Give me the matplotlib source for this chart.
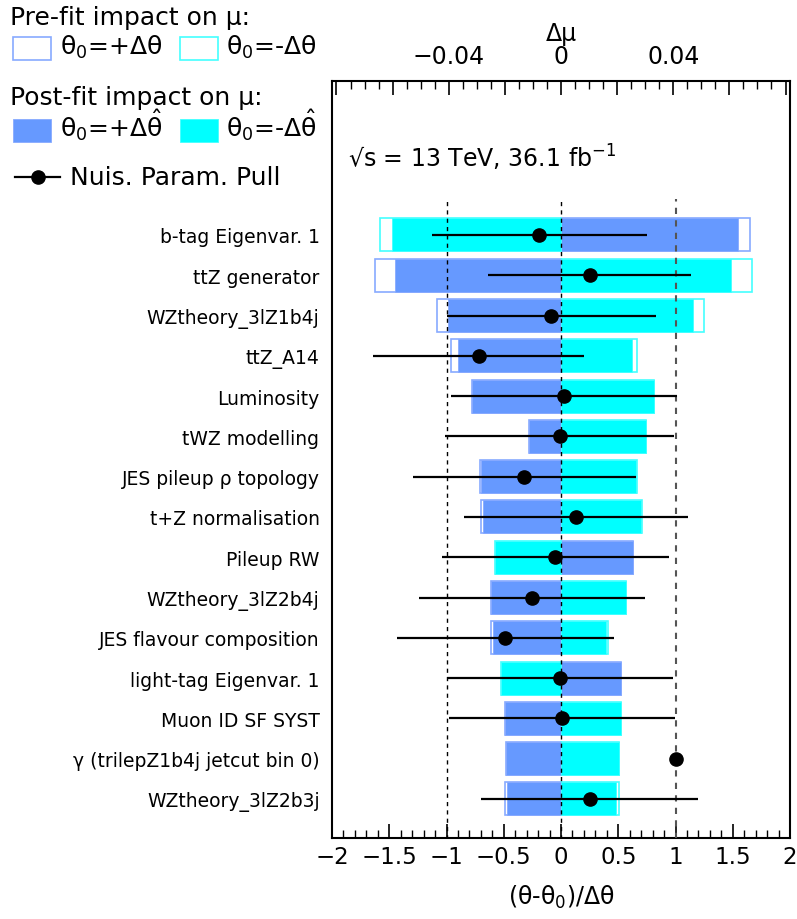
import matplotlib
matplotlib.use("Agg")
import matplotlib.pyplot as plt
from matplotlib.patches import Rectangle
from matplotlib.lines import Line2D
from matplotlib.ticker import MultipleLocator, FuncFormatter

plt.rcParams['font.family'] = ['DejaVu Sans']
plt.rcParams['mathtext.fontset'] = 'dejavusans'

# Nuisance parameters, ranked from top to bottom
labels = [
    "b-tag Eigenvar. 1",
    "ttZ generator",
    "WZtheory_3lZ1b4j",
    "ttZ_A14",
    "Luminosity",
    "tWZ modelling",
    "JES pileup ρ topology",
    "t+Z normalisation",
    "Pileup RW",
    "WZtheory_3lZ2b4j",
    "JES flavour composition",
    "light-tag Eigenvar. 1",
    "Muon ID SF SYST",
    "γ (trilepZ1b4j jetcut bin 0)",
    "WZtheory_3lZ2b3j",
]

# Pulls (θ-θ0)/Δθ and their post-fit uncertainties
pull = [-0.19, 0.25, -0.085, -0.72, 0.03, -0.013, -0.32, 0.13, -0.05, -0.255,
        -0.486, -0.01, 0.008, 1.0, 0.25]
pull_err = [0.94, 0.885, 0.913, 0.92, 0.987, 1.0, 0.976, 0.975, 0.99, 0.987,
            0.949, 0.99, 0.99, 0.04, 0.95]

# Impact on mu: pre-fit and post-fit, for theta0 = +dtheta (up) and -dtheta (down)
pre_up = [0.0673, -0.0664, -0.0442, -0.0392, -0.0317, -0.0113, -0.0290, -0.0286,
          0.0255, -0.0251, -0.0250, 0.0213, -0.0200, -0.0197, -0.0201]
pre_down = [-0.0644, 0.0681, 0.0508, 0.0270, 0.0330, 0.0304, 0.0270, 0.0287,
            -0.0236, 0.0233, 0.0166, -0.0215, 0.0213, 0.0205, 0.0205]
post_up = [0.0632, -0.0590, -0.0403, -0.0366, -0.0317, -0.0113, -0.0284, -0.0278,
           0.0255, -0.0251, -0.0242, 0.0213, -0.0200, -0.0197, -0.0191]
post_down = [-0.0602, 0.0607, 0.0470, 0.0252, 0.0330, 0.0304, 0.0269, 0.0284,
             -0.0236, 0.0233, 0.0160, -0.0215, 0.0213, 0.0205, 0.0195]

BLUE = "#6699ff"
CYAN = "#00ffff"
BLUE_EDGE = "#88aaff"
CYAN_EDGE = "#44ffff"

n = len(labels)
ypos = [n - i for i in range(n)]

fig = plt.figure(figsize=(7.97, 9.20), dpi=100)
W, H = 797, 920
ax = fig.add_axes([332 / W, 1 - 839 / H, (790 - 332) / W, (839 - 81.7) / H])
ax2 = ax.twiny()

# bars live on the Delta-mu axis, drawn underneath the pulls
ax.set_zorder(ax2.get_zorder() + 1)
ax.patch.set_visible(False)

h = 0.82
ax2.barh(ypos, pre_up, height=h, left=0, facecolor="white", edgecolor=BLUE_EDGE, linewidth=1.2, zorder=1)
ax2.barh(ypos, pre_down, height=h, left=0, facecolor="white", edgecolor=CYAN_EDGE, linewidth=1.2, zorder=1)
ax2.barh(ypos, post_up, height=h, left=0, facecolor=BLUE, edgecolor=BLUE_EDGE, linewidth=0.6, zorder=2)
ax2.barh(ypos, post_down, height=h, left=0, facecolor=CYAN, edgecolor=CYAN_EDGE, linewidth=0.6, zorder=2)

mu_lim = 0.0816
ax2.set_xlim(-mu_lim, mu_lim)
ax2.xaxis.set_major_locator(MultipleLocator(0.02))
ax2.xaxis.set_minor_locator(MultipleLocator(0.005))


def top_fmt(v, pos):
    if abs(v) < 1e-9:
        return "0"
    if abs(abs(v) - 0.04) < 1e-9:
        return ("−" if v < 0 else "") + "0.04"
    return ""


ax2.xaxis.set_major_formatter(FuncFormatter(top_fmt))
ax2.tick_params(axis="x", which="major", direction="in", length=10, width=1.2,
                labelsize=17, pad=9, top=True, bottom=False)
ax2.tick_params(axis="x", which="minor", direction="in", length=5.5, width=1.0,
                top=True, bottom=False)
for s in ax2.spines.values():
    s.set_visible(False)

# reference lines at 0 and +-1 sigma
ax.plot([-1, -1], [0, 15.9], ls=(0, (3, 3)), color="black", lw=1.0, zorder=3)
ax.plot([0, 0], [0, 15.9], ls=(0, (3, 3)), color="black", lw=1.0, zorder=3)
ax.plot([1, 1], [0, 15.9], ls=(0, (3, 3)), color="#555555", lw=1.5, zorder=3)

# pulls
ax.errorbar(pull, ypos, xerr=pull_err, fmt="o", color="black", ms=9.5,
            elinewidth=1.6, capsize=0, zorder=5)

ax.set_xlim(-2, 2)
ax.set_ylim(0.03, 18.83)
ax.set_yticks(ypos)
ax.set_yticklabels(labels, fontsize=13.5)
ax.tick_params(axis="y", length=0, pad=9)
ax.xaxis.set_major_locator(MultipleLocator(0.5))
ax.xaxis.set_minor_locator(MultipleLocator(0.1))
ax.xaxis.set_major_formatter(FuncFormatter(lambda v, p: ("%g" % v).replace("-", "−")))
ax.tick_params(axis="x", which="major", direction="in", length=10, width=1.2,
               labelsize=16.5, pad=5, top=False)
ax.tick_params(axis="x", which="minor", direction="in", length=5.5, width=1.0, top=False)
for s in ax.spines.values():
    s.set_linewidth(1.5)
    s.set_color("black")

# overlay in pixel coordinates for the legend and annotations
lax = fig.add_axes([0, 0, 1, 1])
lax.set_xlim(0, W)
lax.set_ylim(H, 0)
lax.axis("off")

fs = 18
lax.text(10, 25, "Pre-fit impact on μ:", fontsize=fs, va="baseline")
lax.add_patch(Rectangle((13, 38), 38, 23, facecolor="white", edgecolor=BLUE_EDGE, lw=1.2))
lax.text(60, 55, "θ$_0$=+Δθ", fontsize=fs, va="baseline")
lax.add_patch(Rectangle((180, 38), 38, 23, facecolor="white", edgecolor=CYAN_EDGE, lw=1.2))
lax.text(226, 55, "θ$_0$=-Δθ", fontsize=fs, va="baseline")

lax.text(10, 105, "Post-fit impact on μ:", fontsize=fs, va="baseline")
lax.add_patch(Rectangle((13, 120), 38, 23, facecolor=BLUE, edgecolor=BLUE_EDGE, lw=0.6))
lax.text(60, 137, r"θ$_0$=+Δ$\hat{\mathrm{θ}}$", fontsize=fs, va="baseline")
lax.add_patch(Rectangle((180, 120), 38, 23, facecolor=CYAN, edgecolor=CYAN_EDGE, lw=0.6))
lax.text(226, 137, r"θ$_0$=-Δ$\hat{\mathrm{θ}}$", fontsize=fs, va="baseline")

lax.add_line(Line2D([15, 60], [178, 178], color="black", lw=1.6))
lax.add_line(Line2D([38], [178], marker="o", color="black", ms=9.5))
lax.text(70, 185, "Nuis. Param. Pull", fontsize=fs, va="baseline")

lax.text(561, 41, "Δμ", fontsize=17, ha="center", va="baseline")
lax.text(348, 168, "√s = 13 TeV, 36.1 fb$^{-1}$", fontsize=17, va="baseline")
lax.text(561, 905, "(θ-θ$_0$)/Δθ", fontsize=17, ha="center", va="baseline")

fig.savefig("out.png", dpi=100)
